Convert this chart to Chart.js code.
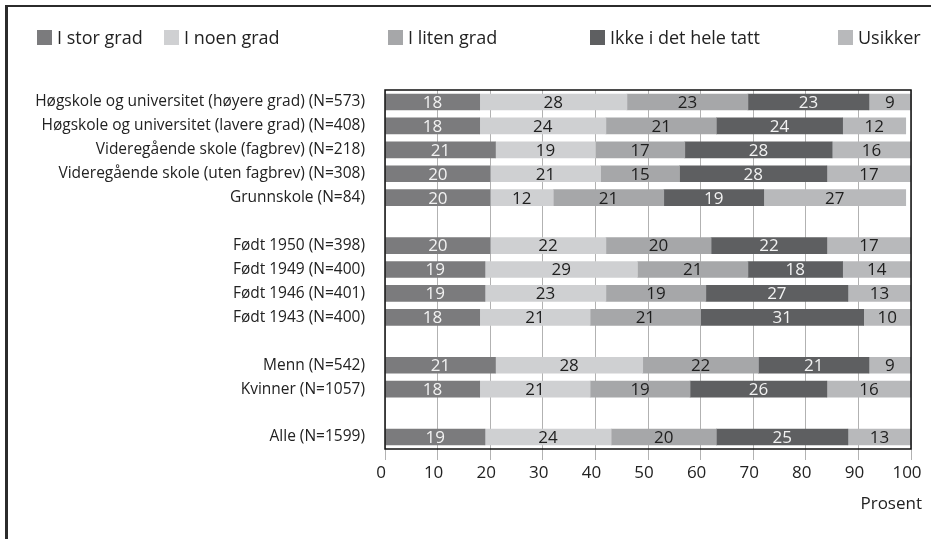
<!DOCTYPE html>
<html lang="no">
<head>
<meta charset="UTF-8">
<title>Svarfordeling</title>
<script src="https://cdn.jsdelivr.net/npm/chart.js"></script>
<style>
  body { margin: 0; background: #fff; font-family: "Open Sans", sans-serif; }
  #wrap { position: relative; width: 931px; height: 539px; overflow: hidden; }
  #frame { position: absolute; left: 5px; top: 5px; width: 940px; height: 560px;
           border-left: 3px solid #2b2b2b; border-top: 2px solid #2b2b2b; }
  #chart { position: absolute; left: 0; top: 0; }
  .leg { position: absolute; top: 27px; font-size: 18px; color: #222; line-height: 20px; white-space: nowrap; }
  .leg span { display: inline-block; width: 15px; height: 15px; margin-right: 5px; vertical-align: -1px; }
  #unit { position: absolute; right: 9px; top: 491px; font-size: 17px; color: #222; }
</style>
</head>
<body>
<div id="wrap">
  <div id="frame"></div>
  <canvas id="chart" width="931" height="539"></canvas>
  <div id="legend"></div>
  <div id="unit">Prosent</div>
</div>
<script>
// kategorier (tomme strenger = mellomrom mellom gruppene)
const kategorier = [
  'Høgskole og universitet (høyere grad) (N=573)',
  'Høgskole og universitet (lavere grad) (N=408)',
  'Videregående skole (fagbrev) (N=218)',
  'Videregående skole (uten fagbrev) (N=308)',
  'Grunnskole (N=84)',
  '',
  'Født 1950 (N=398)',
  'Født 1949 (N=400)',
  'Født 1946 (N=401)',
  'Født 1943 (N=400)',
  '',
  'Menn (N=542)',
  'Kvinner (N=1057)',
  '',
  'Alle (N=1599)'
];

const serier = ['I stor grad', 'I noen grad', 'I liten grad', 'Ikke i det hele tatt', 'Usikker'];

const iStorGrad   = [18, 18, 21, 20, 20, null, 20, 19, 19, 18, null, 21, 18, null, 19];
const iNoenGrad   = [28, 24, 19, 21, 12, null, 22, 29, 23, 21, null, 28, 21, null, 24];
const iLitenGrad  = [23, 21, 17, 15, 21, null, 20, 21, 19, 21, null, 22, 19, null, 20];
const ikkeIDet    = [23, 24, 28, 28, 19, null, 22, 18, 27, 31, null, 21, 26, null, 25];
const usikker     = [9, 12, 16, 17, 27, null, 17, 14, 13, 10, null, 9, 16, null, 13];

const xTicks = [0, 10, 20, 30, 40, 50, 60, 70, 80, 90, 100];

const farger = ['#7b7b7d', '#cfd0d2', '#a6a7a9', '#5e5f61', '#b8b9bb'];
const tekstFarger = ['#f2f2f2', '#1e1e1e', '#1e1e1e', '#f2f2f2', '#1e1e1e'];
const legendX = [37, 164, 388, 590, 838];

const verdier = [iStorGrad, iNoenGrad, iLitenGrad, ikkeIDet, usikker];

// legend som html
const leg = document.getElementById('legend');
serier.forEach((s, i) => {
  const d = document.createElement('div');
  d.className = 'leg';
  d.style.left = legendX[i] + 'px';
  d.innerHTML = '<span style="background:' + farger[i] + '"></span>' + s;
  leg.appendChild(d);
});

// tall midt i hvert segment
const etiketter = {
  id: 'etiketter',
  afterDatasetsDraw(chart) {
    const ctx = chart.ctx;
    const area = chart.chartArea;
    ctx.save();
    ctx.font = '17px "Open Sans"';
    ctx.textAlign = 'center';
    ctx.textBaseline = 'middle';
    chart.data.datasets.forEach((ds, i) => {
      chart.getDatasetMeta(i).data.forEach((bar, j) => {
        const v = ds.data[j];
        if (v == null) return;
        const a = Math.min(bar.base, area.right);
        const b = Math.min(bar.x, area.right);
        ctx.fillStyle = tekstFarger[i];
        ctx.fillText(String(v), (a + b) / 2, bar.y + 1);
      });
    });
    // ramme rundt plottet
    ctx.strokeStyle = '#111';
    ctx.lineWidth = 1.5;
    ctx.strokeRect(area.left, area.top, area.right - area.left, area.bottom - area.top);
    ctx.restore();
  }
};

new Chart(document.getElementById('chart'), {
  type: 'bar',
  data: {
    labels: kategorier,
    datasets: serier.map((s, i) => ({
      label: s,
      data: verdier[i],
      backgroundColor: farger[i],
      borderWidth: 0,
      barThickness: 16
    }))
  },
  options: {
    indexAxis: 'y',
    responsive: false,
    animation: false,
    layout: { padding: { left: 0, right: 20, top: 90, bottom: 45 } },
    plugins: {
      legend: { display: false },
      tooltip: { enabled: false }
    },
    scales: {
      x: {
        stacked: true,
        min: 0,
        max: 100,
        afterBuildTicks: (scale) => { scale.ticks = xTicks.map(v => ({ value: v })); },
        afterFit: (scale) => { scale.height = 45; },
        grid: { color: '#b2b2b2', lineWidth: 1, tickLength: 11, tickColor: '#b2b2b2' },
        border: { display: false },
        ticks: { font: { family: 'Open Sans', size: 17 }, color: '#222', padding: 3, labelOffset: -4 }
      },
      y: {
        stacked: true,
        afterFit: (scale) => { scale.width = 385; },
        grid: { display: false },
        border: { display: false },
        ticks: { font: { family: 'Open Sans', size: 15.5 }, color: '#222', padding: 12, autoSkip: false }
      }
    }
  },
  plugins: [etiketter]
});
</script>
</body>
</html>
